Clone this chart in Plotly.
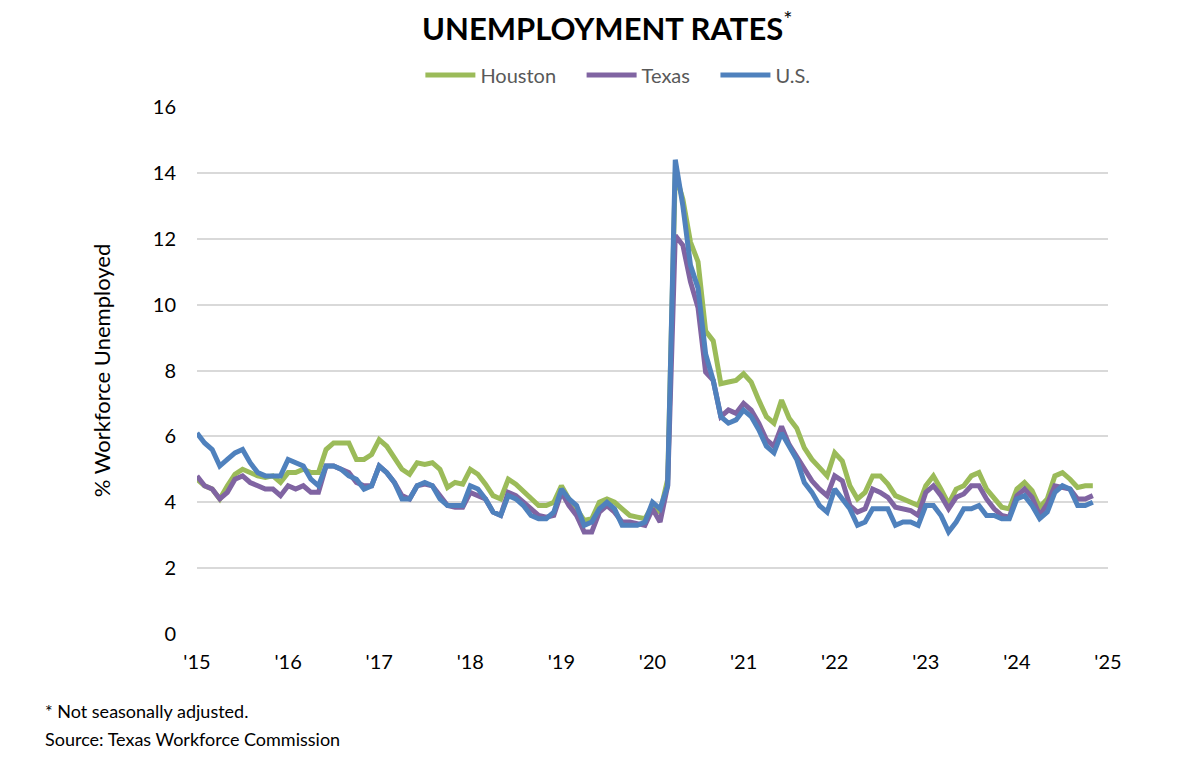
import plotly.graph_objects as go

# Monthly, Jan 2015 - Nov 2024
houston = [
    4.7, 4.5, 4.4, 4.1, 4.5, 4.85, 5.0, 4.9, 4.8, 4.75, 4.8, 4.6,
    4.9, 4.9, 5.0, 4.9, 4.9, 5.6, 5.8, 5.8, 5.8, 5.3, 5.3, 5.45,
    5.9, 5.7, 5.35, 5.0, 4.85, 5.2, 5.15, 5.2, 5.0, 4.45, 4.6, 4.55,
    5.0, 4.85, 4.55, 4.2, 4.1, 4.7, 4.55, 4.35, 4.1, 3.9, 3.9, 4.0,
    4.5, 4.1, 3.8, 3.45, 3.5, 4.0, 4.1, 4.0, 3.8, 3.6, 3.55, 3.5,
    3.9, 3.7, 4.7, 14.0, 13.2, 11.9, 11.3, 9.2, 8.9, 7.6, 7.65, 7.7,
    7.9, 7.65, 7.1, 6.6, 6.4, 7.1, 6.55, 6.25, 5.65, 5.3, 5.05, 4.8,
    5.5, 5.25, 4.5, 4.1, 4.3, 4.8, 4.8, 4.55, 4.2, 4.1, 4.0, 3.9,
    4.5, 4.8, 4.4, 3.95, 4.4, 4.5, 4.8, 4.9, 4.4, 4.1, 3.85, 3.8,
    4.4, 4.6, 4.35, 3.85, 4.1, 4.8, 4.9, 4.7, 4.45, 4.5, 4.5,
]
texas = [
    4.8, 4.5, 4.4, 4.1, 4.3, 4.7, 4.8, 4.6, 4.5, 4.4, 4.4, 4.2,
    4.5, 4.4, 4.5, 4.3, 4.3, 5.1, 5.1, 5.0, 4.9, 4.6, 4.5, 4.5,
    5.1, 4.9, 4.6, 4.2, 4.1, 4.5, 4.55, 4.5, 4.2, 3.9, 3.85, 3.85,
    4.3, 4.2, 4.1, 3.7, 3.6, 4.3, 4.2, 4.0, 3.8, 3.6, 3.55, 3.6,
    4.3, 3.9, 3.6, 3.1, 3.1, 3.7, 3.9, 3.7, 3.4, 3.4, 3.35, 3.3,
    3.8, 3.4, 4.5, 12.1, 11.8, 10.7, 9.9, 7.95, 7.7, 6.6, 6.8, 6.7,
    7.0, 6.8, 6.4, 5.9, 5.7, 6.3, 5.75, 5.4, 5.0, 4.65, 4.4, 4.2,
    4.8, 4.65, 3.9, 3.7, 3.8, 4.4, 4.3, 4.15, 3.85, 3.8, 3.75, 3.6,
    4.3, 4.5, 4.2, 3.8, 4.15, 4.25, 4.5, 4.5, 4.1, 3.8, 3.6, 3.55,
    4.2, 4.4, 4.15, 3.6, 3.95, 4.5, 4.45, 4.4, 4.1, 4.1, 4.2,
]
us = [
    6.1, 5.8, 5.6, 5.1, 5.3, 5.5, 5.6, 5.2, 4.9, 4.8, 4.8, 4.8,
    5.3, 5.2, 5.1, 4.7, 4.5, 5.1, 5.1, 5.0, 4.8, 4.7, 4.4, 4.5,
    5.1, 4.9, 4.6, 4.1, 4.1, 4.5, 4.6, 4.5, 4.1, 3.9, 3.9, 3.9,
    4.5, 4.4, 4.1, 3.7, 3.6, 4.2, 4.1, 3.9, 3.6, 3.5, 3.5, 3.7,
    4.4, 4.1, 3.9, 3.3, 3.4, 3.8, 4.0, 3.8, 3.3, 3.3, 3.3, 3.4,
    4.0, 3.8, 4.5, 14.4, 13.0, 11.2, 10.5, 8.5, 7.7, 6.6, 6.4, 6.5,
    6.8, 6.6, 6.2, 5.7, 5.5, 6.1, 5.7, 5.3, 4.6, 4.3, 3.9, 3.7,
    4.4, 4.1, 3.8, 3.3, 3.4, 3.8, 3.8, 3.8, 3.3, 3.4, 3.4, 3.3,
    3.9, 3.9, 3.6, 3.1, 3.4, 3.8, 3.8, 3.9, 3.6, 3.6, 3.5, 3.5,
    4.1, 4.2, 3.9, 3.5, 3.7, 4.3, 4.5, 4.4, 3.9, 3.9, 4.0,
]
year_labels = ["'15", "'16", "'17", "'18", "'19", "'20", "'21", "'22", "'23", "'24", "'25"]
months = list(range(len(us)))

FONT = "Lato"
NB = "\u00a0"
W, H = 1175, 750  # page body has an 8px margin
fig = go.Figure()
for name, vals, col in [("Houston" + NB * 4, houston, "#9BBB59"),
                        ("Texas" + NB * 4, texas, "#8064A2"),
                        ("U.S.", us, "#4F81BD")]:
    fig.add_trace(go.Scatter(x=months, y=vals, name=name, mode="lines",
                             line=dict(color=col, width=5)))

fig.update_layout(
    width=W, height=H,
    paper_bgcolor="white", plot_bgcolor="white",
    margin=dict(l=189, r=75, t=99, b=124, autoexpand=False),
    font=dict(family=FONT, color="black"),
    title=dict(text="<b>UNEMPLOYMENT RATES</b><sup>*</sup>", x=0.51, xanchor="center",
               y=1 - 21 / H, yanchor="middle", font=dict(size=31, family=FONT, color="black")),
    legend=dict(orientation="h", x=0.462, xanchor="center", y=(634 - 75) / 527, yanchor="middle",
                font=dict(size=20, color="#595959", family=FONT), itemwidth=50,
                traceorder="normal"),
    showlegend=True,
)
fig.update_xaxes(range=[0, 120], tickmode="array", tickvals=[12 * i for i in range(11)],
                 ticktext=year_labels, showgrid=False, zeroline=False, showline=False,
                 tickfont=dict(size=20, family=FONT), ticks="", ticklabelstandoff=14,
                 fixedrange=True, automargin=False)
fig.update_yaxes(range=[0, 16], dtick=2, showgrid=True, gridcolor="#D9D9D9", gridwidth=1.5,
                 zeroline=False, showline=False, tickfont=dict(size=20, family=FONT),
                 ticks="", ticklabelstandoff=20, automargin=False,
                 title=dict(text="% Workforce Unemployed", font=dict(size=22, family=FONT),
                            standoff=36))

fig.add_annotation(x=(43 - 197) / 911, y=(634 - 711) / 527, xref="paper", yref="paper",
                   text="* Not seasonally adjusted.", showarrow=False, xanchor="left",
                   yanchor="middle", font=dict(size=18, family=FONT, color="black"))
fig.add_annotation(x=(43 - 197) / 911, y=(634 - 739) / 527, xref="paper", yref="paper",
                   text="Source: Texas Workforce Commission", showarrow=False, xanchor="left",
                   yanchor="middle", font=dict(size=18, family=FONT, color="black"))

fig.write_html("out.html")
